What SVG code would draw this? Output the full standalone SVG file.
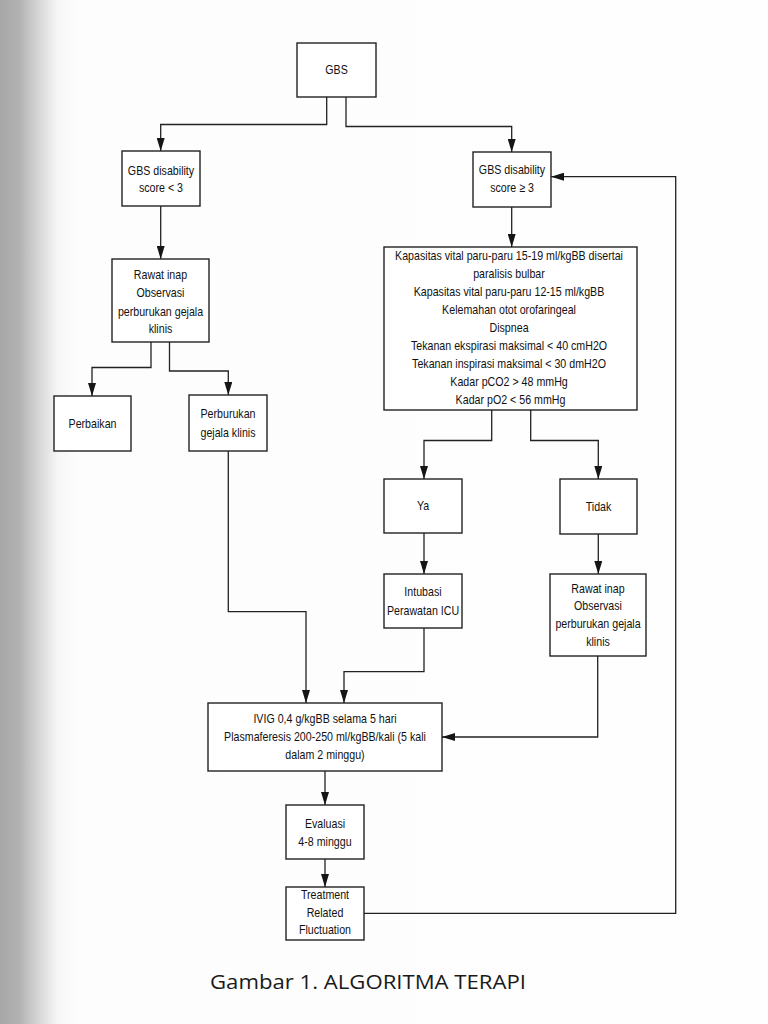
<svg xmlns="http://www.w3.org/2000/svg" width="768" height="1024" viewBox="0 0 768 1024">
<defs>
<linearGradient id="page" x1="0" y1="0" x2="1" y2="0">
<stop offset="0" stop-color="#a6a6a6"/>
<stop offset="0.025" stop-color="#b2b2b2"/>
<stop offset="0.05" stop-color="#d6d6d6"/>
<stop offset="0.075" stop-color="#f6f6f6"/>
<stop offset="0.1" stop-color="#fdfdfd"/>
<stop offset="1" stop-color="#fefefe"/>
</linearGradient>
<marker id="ah" markerUnits="userSpaceOnUse" markerWidth="13" markerHeight="8" refX="13" refY="4" orient="auto">
<path d="M0,0 L13,4 L0,8 z" fill="#151515"/>
</marker>
<style>
.box{fill:#ffffff;stroke:#222;stroke-width:1.4}
.t{font-family:"Liberation Sans",Arial,sans-serif;font-size:13px;fill:#111;text-anchor:middle}
.c{fill:none;stroke:#222;stroke-width:1.3;marker-end:url(#ah)}
.cap{font-family:"Open Sans","Noto Sans",sans-serif;font-size:20px;fill:#1a1a1a}
</style>
</defs>
<rect x="0" y="0" width="768" height="1024" fill="url(#page)"/>

<g id="connectors">
<path class="c" d="M326.7,97 V124.5 H160.7 V151"/>
<path class="c" d="M346,97 V126.5 H511.7 V152"/>
<path class="c" d="M160.7,206 V259"/>
<path class="c" d="M511.7,207 V247"/>
<path class="c" d="M151,342 V367.5 H92 V396"/>
<path class="c" d="M169.5,342 V371 H228.3 V395"/>
<path class="c" d="M491.7,410 V440.5 H424 V479"/>
<path class="c" d="M530.7,410 V440.5 H598.3 V479"/>
<path class="c" d="M424,533 V574"/>
<path class="c" d="M598.3,534 V574"/>
<path class="c" d="M228.3,451 V611.7 H306 V703"/>
<path class="c" d="M424,628 V671.7 H344 V703"/>
<path class="c" d="M597.7,656 V737 H442"/>
<path class="c" d="M325,771 V805"/>
<path class="c" d="M325,859 V887"/>
<path class="c" d="M364,913.3 H675.7 V176.7 H551"/>
</g>

<g id="n-gbs">
<rect class="box" x="297" y="43" width="79" height="54"/>
<text class="t" transform="translate(336.5 0) scale(0.82 1)" x="0" y="74.5">GBS</text>
</g>
<g id="n-score-lt3">
<rect class="box" x="122" y="151" width="78" height="55"/>
<text class="t" transform="translate(161 0) scale(0.82 1)"><tspan x="0" y="175">GBS disability</tspan><tspan x="0" y="192.5">score &lt; 3</tspan></text>
</g>
<g id="n-score-ge3">
<rect class="box" x="473" y="152" width="78" height="55"/>
<text class="t" transform="translate(512 0) scale(0.82 1)"><tspan x="0" y="174.5">GBS disability</tspan><tspan x="0" y="192.5">score ≥ 3</tspan></text>
</g>
<g id="n-criteria">
<rect class="box" x="384" y="247" width="253" height="163"/>
<text class="t" transform="translate(510.5 0) scale(0.82 1)">
<tspan x="0" y="260">Kapasitas vital paru-paru 15-19 ml/kgBB disertai</tspan>
<tspan x="0" y="278">paralisis bulbar</tspan>
<tspan x="0" y="296">Kapasitas vital paru-paru 12-15 ml/kgBB</tspan>
<tspan x="0" y="314">Kelemahan otot orofaringeal</tspan>
<tspan x="0" y="332">Dispnea</tspan>
<tspan x="0" y="350.5">Tekanan ekspirasi maksimal &lt; 40 cmH2O</tspan>
<tspan x="0" y="368.5">Tekanan inspirasi maksimal &lt; 30 dmH2O</tspan>
<tspan x="0" y="386.5">Kadar pCO2 &gt; 48 mmHg</tspan>
<tspan x="0" y="404.5">Kadar pO2 &lt; 56 mmHg</tspan>
</text>
</g>
<g id="n-rawat-left">
<rect class="box" x="112" y="259" width="97" height="83"/>
<text class="t" transform="translate(160.5 0) scale(0.82 1)"><tspan x="0" y="279">Rawat inap</tspan><tspan x="0" y="297.5">Observasi</tspan><tspan x="0" y="316">perburukan gejala</tspan><tspan x="0" y="333.5">klinis</tspan></text>
</g>
<g id="n-perbaikan">
<rect class="box" x="54" y="396" width="77" height="55"/>
<text class="t" transform="translate(92.5 0) scale(0.82 1)" x="0" y="428">Perbaikan</text>
</g>
<g id="n-perburukan">
<rect class="box" x="189" y="395" width="78" height="56"/>
<text class="t" transform="translate(228 0) scale(0.82 1)"><tspan x="0" y="418">Perburukan</tspan><tspan x="0" y="437">gejala klinis</tspan></text>
</g>
<g id="n-ya">
<rect class="box" x="384" y="479" width="78" height="54"/>
<text class="t" transform="translate(423 0) scale(0.82 1)" x="0" y="510.5">Ya</text>
</g>
<g id="n-tidak">
<rect class="box" x="560" y="479" width="77" height="55"/>
<text class="t" transform="translate(598.5 0) scale(0.82 1)" x="0" y="511">Tidak</text>
</g>
<g id="n-intubasi">
<rect class="box" x="384" y="574" width="78" height="54"/>
<text class="t" transform="translate(423 0) scale(0.82 1)"><tspan x="0" y="596">Intubasi</tspan><tspan x="0" y="615.5">Perawatan ICU</tspan></text>
</g>
<g id="n-rawat-right">
<rect class="box" x="550" y="574" width="96" height="82"/>
<text class="t" transform="translate(598 0) scale(0.82 1)"><tspan x="0" y="593">Rawat inap</tspan><tspan x="0" y="610.5">Observasi</tspan><tspan x="0" y="628.5">perburukan gejala</tspan><tspan x="0" y="646">klinis</tspan></text>
</g>
<g id="n-ivig">
<rect class="box" x="208" y="703" width="234" height="68"/>
<text class="t" transform="translate(325 0) scale(0.82 1)"><tspan x="0" y="723.5">IVIG 0,4 g/kgBB selama 5 hari</tspan><tspan x="0" y="741.5">Plasmaferesis 200-250 ml/kgBB/kali (5 kali</tspan><tspan x="0" y="759.5">dalam 2 minggu)</tspan></text>
</g>
<g id="n-evaluasi">
<rect class="box" x="286" y="805" width="78" height="54"/>
<text class="t" transform="translate(325 0) scale(0.82 1)"><tspan x="0" y="828">Evaluasi</tspan><tspan x="0" y="846">4-8 minggu</tspan></text>
</g>
<g id="n-treatment">
<rect class="box" x="286" y="887" width="78" height="53"/>
<text class="t" transform="translate(325 0) scale(0.82 1)"><tspan x="0" y="899.5">Treatment</tspan><tspan x="0" y="917">Related</tspan><tspan x="0" y="934.5">Fluctuation</tspan></text>
</g>

<text class="cap" x="210" y="989" textLength="316" lengthAdjust="spacingAndGlyphs">Gambar 1. ALGORITMA TERAPI</text>
</svg>
